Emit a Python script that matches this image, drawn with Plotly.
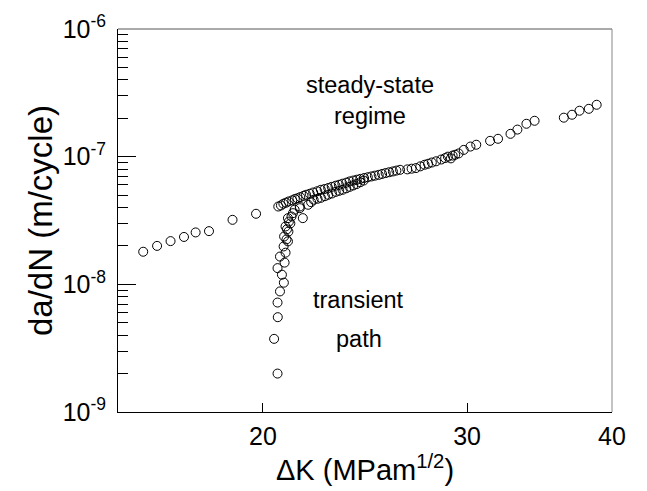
import math
import plotly.graph_objects as go

# ---- data ----
dk_steady_low = [15.77, 16.21, 16.65, 17.10, 17.50, 17.97, 18.83, 19.73]
rate_steady_low = [1.80e-8, 2.00e-8, 2.18e-8, 2.35e-8, 2.55e-8, 2.61e-8, 3.20e-8, 3.57e-8]

dk_transient = [20.59, 20.45, 20.60, 20.59, 20.69, 20.85, 20.77, 20.59, 20.88, 20.69,
                20.92, 20.84, 21.02, 20.96, 20.86, 21.04, 20.98, 20.92, 21.06, 21.12,
                21.02, 21.17, 21.23, 21.30, 21.52, 21.65]
rate_transient = [2.0e-9, 3.74e-9, 5.53e-9, 7.2e-9, 8.8e-9, 1.03e-8, 1.19e-8, 1.34e-8, 1.48e-8, 1.65e-8,
                  1.77e-8, 1.98e-8, 2.17e-8, 2.25e-8, 2.37e-8, 2.59e-8, 2.70e-8, 2.84e-8, 3.10e-8, 3.00e-8,
                  3.30e-8, 3.40e-8, 3.61e-8, 3.84e-8, 4.07e-8, 3.30e-8]

dk_band_lower = [21.52, 21.88, 22.01, 22.12, 22.29, 22.44, 22.62, 22.77, 22.94, 23.11,
                 23.27, 23.43, 23.60, 23.76, 23.93, 24.09, 24.26, 24.43]
rate_band_lower = [3.95e-8, 4.20e-8, 4.40e-8, 4.60e-8, 4.68e-8, 4.76e-8, 4.90e-8, 5.03e-8, 5.15e-8, 5.30e-8,
                   5.40e-8, 5.50e-8, 5.65e-8, 5.80e-8, 5.95e-8, 6.10e-8, 6.30e-8, 6.50e-8]

dk_band_upper = [20.62, 20.73, 20.83, 20.94, 21.05, 21.20, 21.31, 21.42, 21.54, 21.68,
                 21.79, 21.95, 22.10, 22.28, 22.44, 22.61, 22.77, 22.93, 23.10, 23.26,
                 23.42, 23.60, 23.76, 23.93, 24.10, 24.27, 24.45, 24.63, 24.81, 24.98,
                 25.17, 25.34, 25.52, 25.70, 25.89, 26.07, 26.26, 26.64, 26.87, 27.10,
                 27.34, 27.57, 27.76, 27.97, 28.21, 28.50, 28.72, 28.88, 29.05, 29.15,
                 29.30, 29.50]
rate_band_upper = [4.07e-8, 4.15e-8, 4.28e-8, 4.36e-8, 4.46e-8, 4.55e-8, 4.66e-8, 4.72e-8, 4.82e-8, 4.93e-8,
                   5.03e-8, 5.12e-8, 5.24e-8, 5.36e-8, 5.50e-8, 5.58e-8, 5.68e-8, 5.80e-8, 5.92e-8, 6.02e-8,
                   6.14e-8, 6.26e-8, 6.40e-8, 6.50e-8, 6.60e-8, 6.70e-8, 6.80e-8, 6.90e-8, 7.00e-8, 7.10e-8,
                   7.20e-8, 7.32e-8, 7.44e-8, 7.55e-8, 7.66e-8, 7.78e-8, 7.89e-8, 7.95e-8, 8.05e-8, 8.14e-8,
                   8.40e-8, 8.64e-8, 8.80e-8, 9.00e-8, 9.20e-8, 9.50e-8, 9.75e-8, 1.00e-7, 9.70e-8, 1.02e-7,
                   1.035e-7, 1.06e-7]

dk_high = [29.8, 30.2, 30.55, 31.4, 31.9, 32.7, 33.15, 33.75, 34.3, 36.35, 36.95, 37.5, 38.2, 38.8]
rate_high = [1.13e-7, 1.20e-7, 1.24e-7, 1.33e-7, 1.38e-7, 1.51e-7, 1.63e-7, 1.81e-7, 1.91e-7,
             2.02e-7, 2.13e-7, 2.29e-7, 2.37e-7, 2.55e-7]

x_tickvals = [20, 30, 40]
x_ticktext = ["20", "30", "40"]
y_tickvals = [1e-9, 1e-8, 1e-7, 1e-6]
y_ticktext = ["10<sup>-9</sup>", "10<sup>-8</sup>", "10<sup>-7</sup>", "10<sup>-6</sup>"]
y_minor = [m * 10.0 ** e for e in (-9, -8, -7) for m in range(2, 10)]

# annotation anchor positions (dK, da/dN)
labels = ["steady-state", "regime", "transient", "path"]
label_dk = [24.75, 24.75, 24.2, 24.2]
label_rate = [3.66e-7, 2.09e-7, 7.57e-9, 3.74e-9]

dk_all = dk_steady_low + dk_transient + dk_band_lower + dk_band_upper + dk_high
rate_all = rate_steady_low + rate_transient + rate_band_lower + rate_band_upper + rate_high

FONT = "Arial, Liberation Sans, sans-serif"

fig = go.Figure()
fig.add_trace(go.Scatter(
    x=dk_all, y=rate_all, mode="markers",
    marker=dict(symbol="circle-open", size=9, color="black", line=dict(width=1, color="black")),
    showlegend=False, hoverinfo="skip",
))

fig.update_layout(
    width=647, height=491,
    margin=dict(l=118, r=35, t=29, b=79),
    paper_bgcolor="white", plot_bgcolor="white",
    font=dict(family=FONT, size=25, color="black"),
    xaxis=dict(
        type="log", range=[math.log10(15), math.log10(40)],
        tickmode="array", tickvals=x_tickvals, ticktext=x_ticktext,
        ticks="inside", ticklen=9, tickwidth=1, tickcolor="black",
        showline=True, linecolor="black", linewidth=1, mirror=False,
        showgrid=False, zeroline=False,
        tickfont=dict(size=25), ticklabelstandoff=2,
        title=dict(text="ΔK (MPam<sup>1/2</sup>)", font=dict(size=29), standoff=0),
    ),
    yaxis=dict(
        type="log", range=[-9, -6],
        tickmode="array", tickvals=y_tickvals, ticktext=y_ticktext,
        ticks="inside", ticklen=18, tickwidth=1, tickcolor="black",
        minor=dict(tickmode="array", tickvals=y_minor, ticks="inside", ticklen=10,
                   tickwidth=1, tickcolor="black", showgrid=False),
        showline=True, linecolor="black", linewidth=1, mirror=False,
        showgrid=False, zeroline=False,
        tickfont=dict(size=25), ticklabelstandoff=6,
        title=dict(text="da/dN (m/cycle)", font=dict(size=33), standoff=0),
    ),
    shapes=[
        dict(type="line", xref="paper", yref="paper", x0=0, x1=1, y0=1, y1=1,
             line=dict(color="#555555", width=1)),
        dict(type="line", xref="paper", yref="paper", x0=1, x1=1, y0=0, y1=1,
             line=dict(color="#888888", width=1)),
    ],
    annotations=[
        dict(text=t, xref="x", yref="y", x=math.log10(k), y=math.log10(r),
             showarrow=False, font=dict(size=23.5), xanchor="center", yanchor="middle")
        for t, k, r in zip(labels, label_dk, label_rate)
    ],
)

fig.write_html("out.html", config={"displayModeBar": False},
               post_script="document.body.style.margin='0px';")
